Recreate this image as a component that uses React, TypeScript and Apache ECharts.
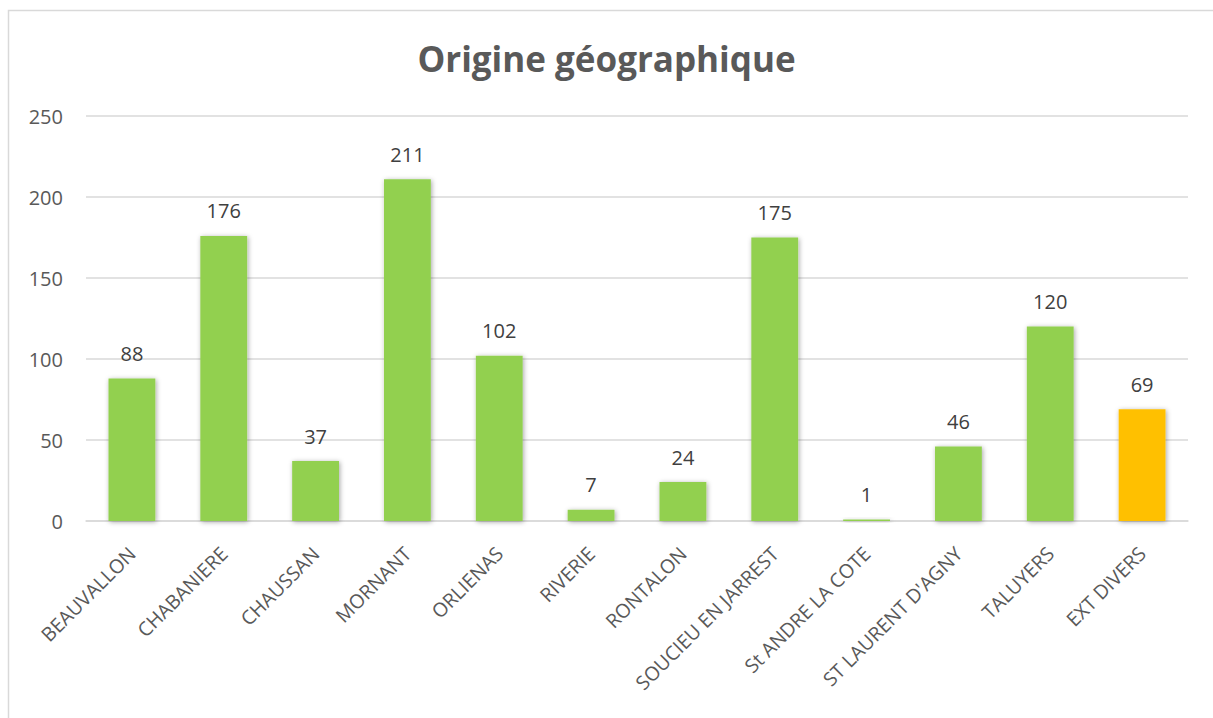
import React, { useEffect, useRef } from "react";
import * as echarts from "echarts";

const categories = [
  "BEAUVALLON",
  "CHABANIERE",
  "CHAUSSAN",
  "MORNANT",
  "ORLIENAS",
  "RIVERIE",
  "RONTALON",
  "SOUCIEU EN JARREST",
  "St ANDRE LA COTE",
  "ST LAURENT D'AGNY",
  "TALUYERS",
  "EXT DIVERS",
];
const values = [88, 176, 37, 211, 102, 7, 24, 175, 1, 46, 120, 69];
const barColors = [
  "#92D050", "#92D050", "#92D050", "#92D050", "#92D050", "#92D050",
  "#92D050", "#92D050", "#92D050", "#92D050", "#92D050", "#FFC000",
];
const titleText = "Origine géographique";

export default function App() {
  const ref = useRef<HTMLDivElement>(null);
  useEffect(() => {
    if (!ref.current) return;
    const chart = echarts.init(ref.current, null, { renderer: "svg" });
    const font = "'Open Sans', 'Noto Sans', sans-serif";
    chart.setOption({
      animation: false,
      backgroundColor: "#ffffff",
      title: {
        text: titleText,
        left: "center",
        top: 36,
        textStyle: {
          fontFamily: font,
          fontSize: 35,
          fontWeight: "bold",
          color: "#595959",
        },
      },
      graphic: [
        {
          type: "rect",
          shape: { x: 8.5, y: 10.5, width: 1230, height: 760 },
          style: { fill: "none", stroke: "#d9d9d9", lineWidth: 1.5 },
          silent: true,
        },
      ],
      grid: { left: 86, right: 25, top: 116, bottom: 197, containLabel: false },
      xAxis: {
        type: "category",
        data: categories,
        axisLine: { show: true, lineStyle: { color: "#d9d9d9", width: 1.5 } },
        axisTick: { show: false },
        axisLabel: {
          rotate: 45,
          interval: 0,
          margin: 29,
          fontFamily: font,
          fontSize: 19.5,
          color: "#595959",
        },
      },
      yAxis: {
        type: "value",
        min: 0,
        max: 250,
        interval: 50,
        axisLine: { show: false },
        axisTick: { show: false },
        splitLine: { lineStyle: { color: "#d9d9d9", width: 1.5 } },
        axisLabel: {
          margin: 23,
          fontFamily: font,
          fontSize: 20,
          color: "#595959",
        },
      },
      series: [
        {
          type: "bar",
          barWidth: "51%",
          data: values.map((v, i) => ({
            value: v,
            itemStyle: { color: barColors[i] },
          })),
          itemStyle: {
            shadowBlur: 5,
            shadowColor: "rgba(0,0,0,0.35)",
            shadowOffsetX: 1,
            shadowOffsetY: 1,
          },
          label: {
            show: true,
            position: "top",
            distance: 15,
            fontFamily: font,
            fontSize: 20,
            color: "#404040",
          },
        },
      ],
    });
    return () => chart.dispose();
  }, []);
  return (
    <div
      ref={ref}
      style={{ position: "absolute", left: 0, top: 0, width: 1213, height: 718 }}
    />
  );
}
